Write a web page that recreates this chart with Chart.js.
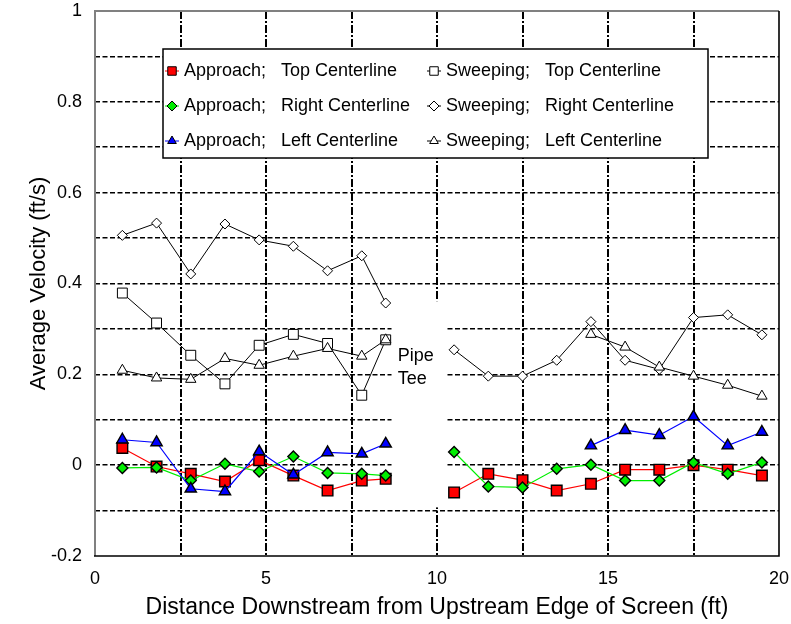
<!DOCTYPE html>
<html>
<head>
<meta charset="utf-8">
<script src="https://cdn.jsdelivr.net/npm/chart.js@4.4.1/dist/chart.umd.min.js"></script>
<style>
  html, body { margin: 0; padding: 0; background: #fff; }
  canvas { display: block; }
</style>
</head>
<body>
<canvas id="velocityChart" width="791" height="624"></canvas>
<script>
// Measuring stations, ft downstream from the upstream edge of the screen
const stationsUpstream = [0.8, 1.8, 2.8, 3.8, 4.8, 5.8, 6.8, 7.8, 8.5];
const stationsDownstream = [10.5, 11.5, 12.5, 13.5, 14.5, 15.5, 16.5, 17.5, 18.5, 19.5];

// Approach velocity (ft/s), upstream and downstream of the pipe tee
const approachTopUp = [0.038, -0.003, -0.019, -0.036, 0.011, -0.023, -0.056, -0.034, -0.030];
const approachTopDown = [-0.060, -0.019, -0.033, -0.056, -0.041, -0.010, -0.010, 0.000, -0.010, -0.023];
const approachRightUp = [-0.006, -0.005, -0.034, 0.003, -0.014, 0.019, -0.017, -0.019, -0.023];
const approachRightDown = [0.029, -0.047, -0.049, -0.008, 0.001, -0.034, -0.034, 0.006, -0.019, 0.006];
const approachLeftUp = [0.056, 0.050, -0.052, -0.058, 0.030, -0.021, 0.028, 0.025, 0.047];
const approachLeftDown = [null, null, null, null, 0.043, 0.077, 0.066, 0.107, 0.043, 0.073];

// Sweeping velocity (ft/s)
const sweepingTopUp = [0.379, 0.313, 0.242, 0.179, 0.264, 0.288, 0.268, 0.154, 0.276];
const sweepingRightUp = [0.506, 0.533, 0.421, 0.531, 0.496, 0.482, 0.428, 0.461, 0.357];
const sweepingRightDown = [0.254, 0.196, 0.196, 0.231, 0.316, 0.231, 0.211, 0.325, 0.331, 0.287];
const sweepingLeftUp = [0.209, 0.192, 0.189, 0.235, 0.220, 0.240, 0.257, 0.240, 0.276];
const sweepingLeftDown = [null, null, null, null, 0.288, 0.260, 0.216, 0.196, 0.176, 0.152];

// Axis tick labels
const xTickLabels = ['0', '5', '10', '15', '20'];
const yTickLabels = ['-0.2', '0', '0.2', '0.4', '0.6', '0.8', '1'];

// Pipe tee note: spans the gap between the two groups of stations
const teeSpan = { xFrom: 8.67, xTo: 10.25, yFrom: 0.361, yTo: -0.093 };
const teeNote = [{ text: 'Pipe', x: 8.85, y: 0.24 }, { text: 'Tee', x: 8.85, y: 0.19 }];

const FONT = '"Liberation Sans", Arial, Helvetica, sans-serif';

// Join both station groups into one series, broken across the pipe tee
function series(up, down) {
  const pts = stationsUpstream.map((x, i) => ({ x: x, y: up[i] }));
  if (down) {
    pts.push({ x: 9.5, y: null });
    stationsDownstream.forEach((x, i) => pts.push({ x: x, y: down[i] }));
  }
  return pts;
}

function approach(label, data, color, style, radius, order) {
  return {
    label, data, order,
    showLine: true,
    borderColor: color,
    borderWidth: 1.2,
    pointStyle: style,
    pointRadius: radius,
    pointHoverRadius: radius,
    pointBackgroundColor: color,
    pointBorderColor: '#000',
    pointBorderWidth: 1.4
  };
}

function sweeping(label, data, style, radius, order) {
  return {
    label, data, order,
    showLine: true,
    borderColor: '#000',
    borderWidth: 1,
    pointStyle: style,
    pointRadius: radius,
    pointHoverRadius: radius,
    pointBackgroundColor: '#fff',
    pointBorderColor: '#000',
    pointBorderWidth: 1
  };
}

const datasets = [
  approach('Approach;   Top Centerline', series(approachTopUp, approachTopDown), '#ff0000', 'rect', 7.5, 2),
  approach('Approach;   Right Centerline', series(approachRightUp, approachRightDown), '#00ee00', 'rectRot', 5.5, 1),
  approach('Approach;   Left Centerline', series(approachLeftUp, approachLeftDown), '#0000ff', 'triangle', 6.5, 0),
  sweeping('Sweeping;   Top Centerline', series(sweepingTopUp, null), 'rect', 7, 5),
  sweeping('Sweeping;   Right Centerline', series(sweepingRightUp, sweepingRightDown), 'rectRot', 5, 4),
  sweeping('Sweeping;   Left Centerline', series(sweepingLeftUp, sweepingLeftDown), 'triangle', 6, 3)
];

// Small marker used in the legend box
function drawMarker(ctx, style, x, y, r) {
  ctx.beginPath();
  if (style === 'rect') {
    const s = r * Math.SQRT1_2;
    ctx.rect(x - s, y - s, 2 * s, 2 * s);
  } else if (style === 'rectRot') {
    ctx.moveTo(x - r, y); ctx.lineTo(x, y - r); ctx.lineTo(x + r, y); ctx.lineTo(x, y + r);
    ctx.closePath();
  } else {
    const h = r * Math.sin(Math.PI / 3);
    ctx.moveTo(x, y - r); ctx.lineTo(x + h, y + r / 2); ctx.lineTo(x - h, y + r / 2);
    ctx.closePath();
  }
  ctx.fill();
  ctx.stroke();
}

// Plot frame and the pipe tee note, drawn above the grid and below the series
const framePlugin = {
  id: 'frameAndNote',
  beforeDatasetsDraw(chart) {
    const { ctx, chartArea: a, scales: { x, y } } = chart;
    ctx.save();
    const l = x.getPixelForValue(teeSpan.xFrom), r = x.getPixelForValue(teeSpan.xTo);
    const t = y.getPixelForValue(teeSpan.yFrom), b = y.getPixelForValue(teeSpan.yTo);
    ctx.fillStyle = '#fff';
    ctx.fillRect(l, t, r - l, b - t);
    ctx.fillStyle = '#000';
    ctx.font = '18px ' + FONT;
    ctx.textBaseline = 'middle';
    ctx.textAlign = 'left';
    teeNote.forEach(n => ctx.fillText(n.text, x.getPixelForValue(n.x), y.getPixelForValue(n.y)));

    ctx.lineWidth = 2;
    ctx.strokeStyle = '#808080';
    ctx.beginPath();
    ctx.moveTo(a.left, a.bottom); ctx.lineTo(a.left, a.top); ctx.lineTo(a.right, a.top);
    ctx.stroke();
    ctx.strokeStyle = '#000';
    ctx.lineWidth = 1.6;
    ctx.beginPath();
    ctx.moveTo(a.right, a.top); ctx.lineTo(a.right, a.bottom); ctx.lineTo(a.left - 1, a.bottom);
    ctx.stroke();
    ctx.restore();
  }
};

// Two-column boxed legend inside the plot area
const legendPlugin = {
  id: 'boxLegend',
  afterDatasetsDraw(chart) {
    const { ctx, chartArea: a } = chart;
    const x0 = a.left + 68, y0 = a.top + 38, w = 545, h = 109;
    ctx.save();
    ctx.fillStyle = '#fff';
    ctx.fillRect(x0, y0, w, h);
    ctx.strokeStyle = '#000';
    ctx.lineWidth = 1.5;
    ctx.strokeRect(x0, y0, w, h);
    ctx.font = '18px ' + FONT;
    ctx.textBaseline = 'middle';
    ctx.textAlign = 'left';
    chart.data.datasets.forEach((ds, i) => {
      const col = Math.floor(i / 3), row = i % 3;
      const mx = x0 + 9 + col * 262;
      const my = y0 + 22 + row * 35;
      ctx.strokeStyle = ds.borderColor;
      ctx.lineWidth = 1;
      ctx.beginPath(); ctx.moveTo(mx - 7, my); ctx.lineTo(mx + 7, my); ctx.stroke();
      ctx.fillStyle = ds.pointBackgroundColor;
      ctx.strokeStyle = ds.pointBorderColor;
      ctx.lineWidth = 1;
      drawMarker(ctx, ds.pointStyle, mx, my, ds.pointStyle === 'rect' ? 6 : 5);
      ctx.fillStyle = '#000';
      ctx.fillText(ds.label, mx + 12, my);
    });
    ctx.restore();
  }
};

const near = (a, b) => Math.abs(a - b) < 1e-6;

new Chart(document.getElementById('velocityChart'), {
  type: 'scatter',
  data: { datasets },
  plugins: [framePlugin, legendPlugin],
  options: {
    responsive: false,
    animation: false,
    events: [],
    layout: { padding: { left: 0, right: 12, top: 11, bottom: 0 } },
    plugins: { legend: { display: false }, tooltip: { enabled: false } },
    scales: {
      x: {
        type: 'linear',
        min: 0, max: 20,
        afterFit(s) {
          s.height = 68;
          s.paddingLeft = 0; s.paddingRight = 0; s.paddingTop = 0; s.paddingBottom = 0;
        },
        ticks: {
          stepSize: 2.5, autoSkip: false, maxRotation: 0, padding: 12, color: '#000',
          font: { family: FONT, size: 18 },
          callback: v => xTickLabels.includes(String(v)) ? String(v) : ''
        },
        grid: {
          drawTicks: false,
          lineWidth: 2,
          color: c => (near(c.tick.value, 0) || near(c.tick.value, 20)) ? 'rgba(0,0,0,0)' : '#000'
        },
        border: { display: false, dash: [8, 2, 2, 2] },
        title: {
          display: true, text: 'Distance Downstream from Upstream Edge of Screen (ft)',
          color: '#000', font: { family: FONT, size: 23 }, padding: { top: 0, bottom: 3 }
        }
      },
      y: {
        type: 'linear',
        min: -0.2, max: 1,
        afterFit(s) {
          s.width = 95;
          s.paddingLeft = 0; s.paddingRight = 0; s.paddingTop = 0; s.paddingBottom = 0;
        },
        ticks: {
          stepSize: 0.1, autoSkip: false, padding: 13, color: '#000',
          font: { family: FONT, size: 18 },
          callback: v => {
            const t = String(Math.round(v * 10) / 10);
            return yTickLabels.includes(t) ? t : '';
          }
        },
        grid: {
          drawTicks: false,
          lineWidth: 1.6,
          color: c => (near(c.tick.value, -0.2) || near(c.tick.value, 1)) ? 'rgba(0,0,0,0)' : '#000'
        },
        border: { display: false, dash: [5, 2.5] },
        title: {
          display: true, text: 'Average Velocity (ft/s)',
          color: '#000', font: { family: FONT, size: 22 }, padding: { top: 26, bottom: 0 }
        }
      }
    }
  }
});
</script>
</body>
</html>
